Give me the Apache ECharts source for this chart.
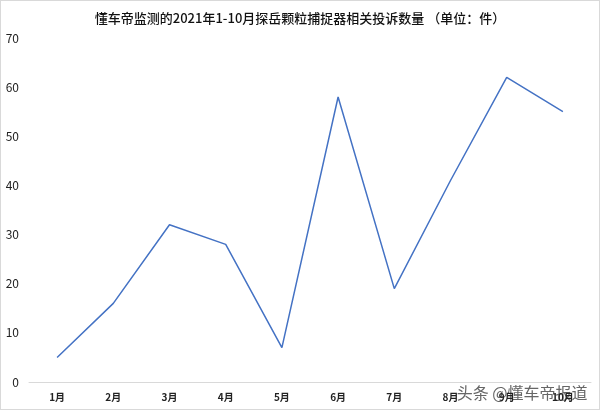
<!DOCTYPE html>
<html><head><meta charset="utf-8">
<script src="https://cdn.jsdelivr.net/npm/echarts@6/dist/echarts.min.js"></script>
<style>html,body{margin:0;padding:0;background:#fff}#c{width:600px;height:410px;box-sizing:border-box;border:1px solid #d9d9d9}</style>
</head><body><div id="c"></div>
<script>
const months = ['1月','2月','3月','4月','5月','6月','7月','8月','9月','10月'];
const complaints = [5,16,32,28,7,58,19,41,62,55];
const title = '懂车帝监测的2021年1-10月探岳颗粒捕捉器相关投诉数量 （单位：件）';
const watermark = '头条 @懂车帝报道';
const chart = echarts.init(document.getElementById('c'));
chart.setOption({
  animation:false,
  textStyle:{fontFamily:'Noto Sans CJK SC'},
  title:{text:title,left:'center',top:6,textStyle:{fontSize:13,fontWeight:500,color:'#111',fontFamily:'Noto Sans CJK SC'}},
  grid:{left:28,right:8,top:37,bottom:27},
  xAxis:{type:'category',data:months,boundaryGap:true,
    axisLine:{lineStyle:{color:'#d9d9d9',width:1}},axisTick:{show:false},
    axisLabel:{fontSize:10,color:'#222',fontWeight:'bold',margin:10}},
  yAxis:{type:'value',min:0,max:70,interval:10,
    axisLine:{show:false},axisTick:{show:false},splitLine:{show:false},
    axisLabel:{fontSize:12,color:'#222',margin:10}},
  series:[{type:'line',data:complaints,symbol:'none',lineStyle:{color:'#4472C4',width:1.5}}],
  graphic:[{type:'text',right:10,bottom:7,style:{text:watermark,fontSize:16,fill:'#666',stroke:'#fff',lineWidth:3,fontFamily:'Noto Sans CJK SC'}}]
});
</script></body></html>
